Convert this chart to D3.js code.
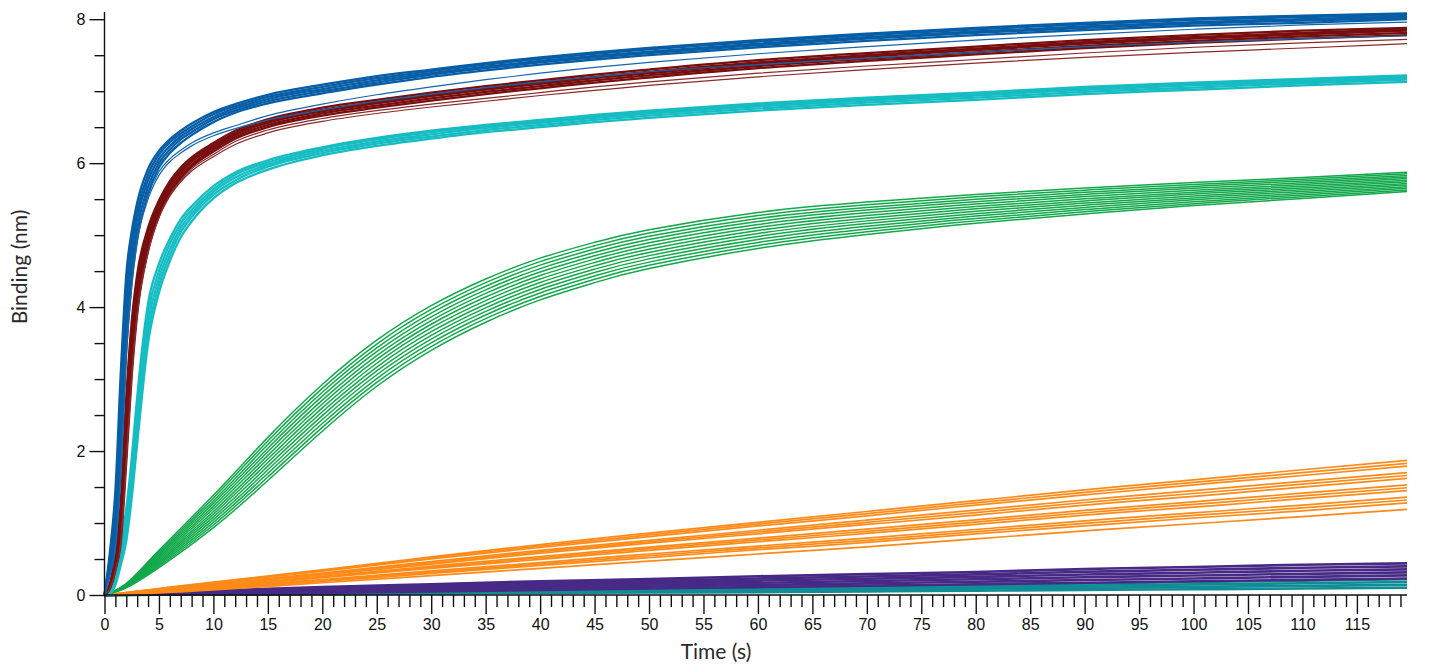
<!DOCTYPE html>
<html>
<head>
<meta charset="utf-8">
<script src="https://cdn.jsdelivr.net/npm/d3@7"></script>
<style>
  html, body { margin: 0; padding: 0; background: #fff; }
  svg { display: block; }
</style>
</head>
<body>
<svg id="chart" width="1432" height="666"></svg>
<script>
// Sampling times (s) for the fast-binding traces
const timeFast = [0, 0.5, 1, 1.5, 2, 2.5, 3, 4, 5, 6, 7, 8, 10, 12, 15, 20, 25, 30, 35, 40, 45, 50, 60, 70, 80, 90, 100, 110, 119.6];
// Sampling times (s) for the slower traces
const timeGreen = [0, 2, 5, 10, 15, 20, 25, 30, 35, 40, 45, 50, 60, 70, 80, 90, 100, 110, 119.6];
const timeOrange = [0, 5, 10, 20, 30, 40, 50, 60, 70, 80, 90, 100, 110, 119.6];
const timeLow = [0, 10, 20, 30, 40, 50, 60, 70, 80, 90, 100, 110, 119.6];

// Binding (nm) replicates, blue sample
const blue1 = [0, 0.6, 1.45, 3.1, 4.45, 5.05, 5.45, 5.92, 6.17, 6.33, 6.45, 6.55, 6.71, 6.82, 6.95, 7.09, 7.21, 7.3, 7.39, 7.47, 7.54, 7.6, 7.71, 7.8, 7.88, 7.95, 8.01, 8.05, 8.08];
const blue2 = [0, 0.52, 1.22, 2.75, 4.22, 4.9, 5.34, 5.84, 6.12, 6.29, 6.41, 6.51, 6.68, 6.79, 6.92, 7.06, 7.18, 7.28, 7.37, 7.45, 7.52, 7.58, 7.69, 7.78, 7.86, 7.93, 7.99, 8.03, 8.06];
const blue3 = [0, 0.45, 1.0, 2.43, 4.0, 4.75, 5.23, 5.76, 6.06, 6.24, 6.37, 6.47, 6.64, 6.76, 6.89, 7.03, 7.15, 7.25, 7.34, 7.42, 7.49, 7.55, 7.66, 7.75, 7.83, 7.9, 7.96, 8.0, 8.04];
const blue4 = [0, 0.38, 0.85, 2.1, 3.7, 4.55, 5.09, 5.67, 6.0, 6.19, 6.33, 6.43, 6.61, 6.73, 6.86, 7.0, 7.12, 7.23, 7.32, 7.4, 7.47, 7.53, 7.64, 7.73, 7.81, 7.88, 7.94, 7.98, 8.02];
const blue5 = [0, 0.3, 0.7, 1.8, 3.4, 4.35, 4.95, 5.58, 5.94, 6.14, 6.28, 6.39, 6.57, 6.7, 6.83, 6.97, 7.09, 7.2, 7.29, 7.37, 7.44, 7.5, 7.61, 7.7, 7.78, 7.85, 7.91, 7.95, 8.0];
const blue6 = [0, 0.3, 0.7, 1.8, 3.4, 4.35, 4.95, 5.55, 5.88, 6.06, 6.18, 6.28, 6.42, 6.52, 6.66, 6.82, 6.95, 7.06, 7.16, 7.25, 7.33, 7.4, 7.52, 7.62, 7.71, 7.79, 7.86, 7.92, 7.96];
const blue7 = [0, 0.28, 0.65, 1.7, 3.3, 4.3, 4.9, 5.5, 5.83, 6.02, 6.14, 6.24, 6.38, 6.48, 6.6, 6.74, 6.86, 6.96, 7.05, 7.13, 7.2, 7.27, 7.37, 7.46, 7.54, 7.62, 7.68, 7.73, 7.77];

// Binding (nm) replicates, dark red sample
const red1 = [0, 0.16, 0.58, 1.3, 2.75, 3.8, 4.45, 5.1, 5.48, 5.75, 5.94, 6.08, 6.28, 6.45, 6.61, 6.77, 6.88, 6.98, 7.07, 7.15, 7.23, 7.3, 7.43, 7.53, 7.62, 7.71, 7.78, 7.84, 7.88];
const red2 = [0, 0.14, 0.52, 1.15, 2.52, 3.62, 4.32, 5.02, 5.43, 5.71, 5.9, 6.05, 6.25, 6.42, 6.58, 6.74, 6.85, 6.95, 7.04, 7.12, 7.2, 7.27, 7.4, 7.5, 7.59, 7.68, 7.75, 7.81, 7.86];
const red3 = [0, 0.12, 0.45, 1.0, 2.3, 3.45, 4.2, 4.95, 5.38, 5.67, 5.87, 6.02, 6.22, 6.4, 6.56, 6.72, 6.83, 6.93, 7.02, 7.1, 7.18, 7.25, 7.38, 7.48, 7.57, 7.66, 7.73, 7.79, 7.84];
const red4 = [0, 0.1, 0.4, 0.88, 2.08, 3.25, 4.05, 4.86, 5.32, 5.62, 5.83, 5.98, 6.19, 6.37, 6.53, 6.69, 6.8, 6.9, 6.99, 7.07, 7.15, 7.22, 7.35, 7.45, 7.54, 7.63, 7.7, 7.76, 7.81];
const red5 = [0, 0.09, 0.34, 0.75, 1.85, 3.05, 3.9, 4.78, 5.27, 5.58, 5.79, 5.95, 6.16, 6.34, 6.5, 6.66, 6.77, 6.87, 6.96, 7.04, 7.12, 7.19, 7.32, 7.42, 7.51, 7.6, 7.67, 7.73, 7.78];
const red6 = [0, 0.09, 0.34, 0.75, 1.85, 3.05, 3.9, 4.76, 5.24, 5.54, 5.74, 5.89, 6.09, 6.26, 6.42, 6.58, 6.69, 6.78, 6.86, 6.94, 7.01, 7.08, 7.2, 7.3, 7.39, 7.47, 7.54, 7.6, 7.66];
const red7 = [0, 0.09, 0.34, 0.75, 1.85, 3.05, 3.9, 4.77, 5.25, 5.56, 5.76, 5.92, 6.12, 6.3, 6.46, 6.62, 6.73, 6.82, 6.9, 6.98, 7.06, 7.13, 7.25, 7.35, 7.44, 7.53, 7.61, 7.67, 7.72];

// Binding (nm) replicates, cyan sample
const cyan1 = [0, 0.05, 0.28, 0.7, 1.2, 1.9, 2.75, 4.05, 4.6, 4.95, 5.22, 5.4, 5.68, 5.87, 6.04, 6.22, 6.35, 6.45, 6.53, 6.6, 6.67, 6.73, 6.83, 6.91, 6.98, 7.06, 7.12, 7.17, 7.22];
const cyan2 = [0, 0.04, 0.24, 0.62, 1.08, 1.75, 2.6, 3.92, 4.5, 4.88, 5.16, 5.35, 5.64, 5.84, 6.01, 6.2, 6.33, 6.43, 6.51, 6.58, 6.65, 6.71, 6.81, 6.89, 6.96, 7.04, 7.1, 7.15, 7.2];
const cyan3 = [0, 0.03, 0.2, 0.55, 0.95, 1.6, 2.43, 3.78, 4.4, 4.8, 5.1, 5.3, 5.6, 5.8, 5.98, 6.17, 6.3, 6.4, 6.49, 6.56, 6.63, 6.69, 6.79, 6.87, 6.94, 7.02, 7.08, 7.13, 7.18];
const cyan4 = [0, 0.025, 0.17, 0.48, 0.85, 1.48, 2.27, 3.64, 4.3, 4.72, 5.04, 5.25, 5.56, 5.76, 5.95, 6.14, 6.27, 6.37, 6.46, 6.53, 6.6, 6.66, 6.76, 6.84, 6.91, 6.99, 7.05, 7.11, 7.16];
const cyan5 = [0, 0.02, 0.14, 0.42, 0.75, 1.35, 2.1, 3.5, 4.2, 4.64, 4.97, 5.19, 5.51, 5.72, 5.91, 6.11, 6.24, 6.34, 6.43, 6.5, 6.57, 6.63, 6.73, 6.81, 6.88, 6.96, 7.02, 7.08, 7.13];

// Binding (nm) replicates, green sample
const green1 = [0, 0.16, 0.62, 1.385, 2.19, 2.925, 3.54, 4.02, 4.39, 4.68, 4.9, 5.075, 5.315, 5.46, 5.565, 5.655, 5.73, 5.8, 5.875];
const green2 = [0, 0.155, 0.6, 1.348, 2.14, 2.871, 3.487, 3.968, 4.34, 4.632, 4.853, 5.03, 5.273, 5.423, 5.532, 5.625, 5.703, 5.776, 5.853];
const green3 = [0, 0.15, 0.58, 1.31, 2.09, 2.817, 3.433, 3.917, 4.29, 4.583, 4.807, 4.985, 5.232, 5.385, 5.498, 5.595, 5.677, 5.752, 5.83];
const green4 = [0, 0.145, 0.56, 1.273, 2.04, 2.763, 3.38, 3.865, 4.24, 4.535, 4.76, 4.94, 5.19, 5.348, 5.465, 5.565, 5.65, 5.728, 5.808];
const green5 = [0, 0.14, 0.54, 1.235, 1.99, 2.708, 3.327, 3.813, 4.19, 4.487, 4.713, 4.895, 5.148, 5.31, 5.432, 5.535, 5.623, 5.703, 5.785];
const green6 = [0, 0.135, 0.52, 1.198, 1.94, 2.654, 3.273, 3.762, 4.14, 4.438, 4.667, 4.85, 5.107, 5.273, 5.398, 5.505, 5.597, 5.679, 5.763];
const green7 = [0, 0.13, 0.5, 1.16, 1.89, 2.6, 3.22, 3.71, 4.09, 4.39, 4.62, 4.805, 5.065, 5.235, 5.365, 5.475, 5.57, 5.655, 5.74];
const green8 = [0, 0.125, 0.48, 1.123, 1.84, 2.546, 3.167, 3.658, 4.04, 4.342, 4.573, 4.76, 5.023, 5.198, 5.332, 5.445, 5.543, 5.631, 5.718];
const green9 = [0, 0.12, 0.46, 1.085, 1.79, 2.492, 3.113, 3.607, 3.99, 4.293, 4.527, 4.715, 4.982, 5.16, 5.298, 5.415, 5.517, 5.607, 5.695];
const green10 = [0, 0.115, 0.44, 1.048, 1.74, 2.438, 3.06, 3.555, 3.94, 4.245, 4.48, 4.67, 4.94, 5.123, 5.265, 5.385, 5.49, 5.583, 5.673];
const green11 = [0, 0.11, 0.42, 1.01, 1.69, 2.383, 3.007, 3.503, 3.89, 4.197, 4.433, 4.625, 4.898, 5.085, 5.232, 5.355, 5.463, 5.558, 5.65];
const green12 = [0, 0.105, 0.4, 0.973, 1.64, 2.329, 2.953, 3.452, 3.84, 4.148, 4.387, 4.58, 4.857, 5.048, 5.198, 5.325, 5.437, 5.534, 5.628];
const green13 = [0, 0.1, 0.38, 0.935, 1.59, 2.275, 2.9, 3.4, 3.79, 4.1, 4.34, 4.535, 4.815, 5.01, 5.165, 5.295, 5.41, 5.51, 5.605];

// Binding (nm) replicates, orange sample
const orange1 = [0, 0.09, 0.18, 0.35, 0.53, 0.7, 0.86, 1.01, 1.16, 1.31, 1.46, 1.6, 1.74, 1.87];
const orange2 = [0, 0.087, 0.174, 0.34, 0.515, 0.68, 0.835, 0.985, 1.13, 1.28, 1.425, 1.565, 1.7, 1.83];
const orange3 = [0, 0.083, 0.167, 0.33, 0.5, 0.66, 0.81, 0.96, 1.1, 1.25, 1.39, 1.53, 1.66, 1.79];
const orange4 = [0, 0.075, 0.15, 0.305, 0.465, 0.62, 0.76, 0.9, 1.04, 1.18, 1.32, 1.45, 1.58, 1.7];
const orange5 = [0, 0.072, 0.145, 0.293, 0.448, 0.6, 0.74, 0.875, 1.01, 1.145, 1.285, 1.41, 1.54, 1.66];
const orange6 = [0, 0.068, 0.14, 0.28, 0.43, 0.58, 0.72, 0.85, 0.98, 1.11, 1.25, 1.37, 1.5, 1.62];
const orange7 = [0, 0.06, 0.125, 0.26, 0.4, 0.535, 0.665, 0.79, 0.915, 1.045, 1.175, 1.295, 1.415, 1.53];
const orange8 = [0, 0.057, 0.118, 0.25, 0.385, 0.515, 0.643, 0.765, 0.885, 1.013, 1.143, 1.258, 1.378, 1.49];
const orange9 = [0, 0.053, 0.11, 0.24, 0.37, 0.495, 0.62, 0.74, 0.855, 0.98, 1.11, 1.22, 1.34, 1.45];
const orange10 = [0, 0.045, 0.1, 0.215, 0.335, 0.45, 0.57, 0.68, 0.79, 0.91, 1.03, 1.14, 1.25, 1.36];
const orange11 = [0, 0.042, 0.093, 0.203, 0.318, 0.43, 0.545, 0.655, 0.76, 0.88, 0.995, 1.105, 1.21, 1.32];
const orange12 = [0, 0.038, 0.085, 0.19, 0.3, 0.41, 0.52, 0.63, 0.73, 0.85, 0.96, 1.07, 1.17, 1.28];
const orange13 = [0, 0.03, 0.07, 0.17, 0.27, 0.37, 0.47, 0.57, 0.67, 0.78, 0.89, 0.99, 1.09, 1.19];

// Binding (nm) replicates, purple sample
const purple1 = [0, 0.06, 0.11, 0.15, 0.19, 0.22, 0.26, 0.29, 0.32, 0.36, 0.39, 0.42, 0.44];
const purple2 = [0, 0.051, 0.094, 0.13, 0.166, 0.194, 0.23, 0.258, 0.286, 0.322, 0.35, 0.378, 0.398];
const purple3 = [0, 0.042, 0.078, 0.11, 0.142, 0.168, 0.2, 0.226, 0.252, 0.284, 0.31, 0.336, 0.356];
const purple4 = [0, 0.033, 0.062, 0.09, 0.118, 0.142, 0.17, 0.194, 0.218, 0.246, 0.27, 0.294, 0.314];
const purple5 = [0, 0.024, 0.046, 0.07, 0.094, 0.116, 0.14, 0.162, 0.184, 0.208, 0.23, 0.252, 0.272];
const purple6 = [0, 0.015, 0.03, 0.05, 0.07, 0.09, 0.11, 0.13, 0.15, 0.17, 0.19, 0.21, 0.23];

// Binding (nm) replicates, teal sample
const teal1 = [0, 0.014, 0.028, 0.045, 0.062, 0.08, 0.1, 0.12, 0.14, 0.16, 0.18, 0.2, 0.22];
const teal2 = [0, 0.01, 0.022, 0.035, 0.05, 0.063, 0.08, 0.097, 0.113, 0.13, 0.147, 0.163, 0.18];
const teal3 = [0, 0.008, 0.016, 0.027, 0.04, 0.049, 0.06, 0.073, 0.087, 0.1, 0.113, 0.127, 0.14];
const teal4 = [0, 0.005, 0.01, 0.02, 0.03, 0.035, 0.04, 0.05, 0.06, 0.07, 0.08, 0.09, 0.1];

// Axis ticks
const xTickLabels = [0, 5, 10, 15, 20, 25, 30, 35, 40, 45, 50, 55, 60, 65, 70, 75, 80, 85, 90, 95, 100, 105, 110, 115];
const yTickLabels = [0, 2, 4, 6, 8];
const yMinorTicks = [0.5, 1, 1.5, 2.5, 3, 3.5, 4.5, 5, 5.5, 6.5, 7, 7.5];

// Series groups, drawn back to front
const groups = [
  { color: "#108c94", width: 2.6, curve: d3.curveNatural, time: timeLow, runs: [teal1, teal2, teal3, teal4] },
  { color: "#472a86", width: 2.6, curve: d3.curveNatural, time: timeLow, runs: [purple1, purple2, purple3, purple4, purple5, purple6] },
  { color: "#ff8a17", width: 1.7, curve: d3.curveNatural, time: timeOrange, runs: [orange1, orange2, orange3, orange4, orange5, orange6, orange7, orange8, orange9, orange10, orange11, orange12, orange13] },
  { color: "#12a84b", width: 1.5, curve: d3.curveNatural, time: timeGreen, runs: [green1, green2, green3, green4, green5, green6, green7, green8, green9, green10, green11, green12, green13] },
  { color: "#15bdc2", width: 2.3, curve: d3.curveMonotoneX, time: timeFast, runs: [cyan1, cyan2, cyan3, cyan4, cyan5] },
  { color: "#780e0e", width: 2.3, curve: d3.curveMonotoneX, time: timeFast, runs: [red1, red2, red3, red4, red5] },
  { color: "#8a2a2a", width: 1.2, curve: d3.curveMonotoneX, time: timeFast, runs: [red6, red7] },
  { color: "#075ea6", width: 2.3, curve: d3.curveMonotoneX, time: timeFast, runs: [blue1, blue2, blue3, blue4, blue5] },
  { color: "#1466ad", width: 1.2, curve: d3.curveMonotoneX, time: timeFast, runs: [blue6, blue7] }
];

const svg = d3.select("#chart");
const x = d3.scaleLinear().domain([0, 119.6]).range([104.5, 1407]);
const y = d3.scaleLinear().domain([0, 8.1]).range([595, 12]);

const plot = svg.append("g");
groups.forEach(g => {
  const line = d3.line()
    .x(d => x(d[0]))
    .y(d => y(Math.max(0, d[1])))
    .curve(g.curve);
  g.runs.forEach(run => {
    plot.append("path")
      .attr("d", line(run.map((v, i) => [g.time[i], v])))
      .attr("fill", "none")
      .attr("stroke", g.color)
      .attr("stroke-width", g.width)
      .attr("stroke-linejoin", "round");
  });
});

// X axis: minor ticks every second, labelled ticks every five
const xAxisG = svg.append("g").attr("transform", "translate(0,595)");
xAxisG.append("g")
  .call(d3.axisBottom(x).tickValues(d3.range(0, 120, 1).filter(t => t % 5 !== 0)).tickSize(12).tickFormat(""))
  .call(g => g.select(".domain").remove());
xAxisG.append("g")
  .call(d3.axisBottom(x).tickValues(xTickLabels).tickSize(19).tickPadding(5).tickFormat(d3.format("d")))
  .call(g => g.select(".domain").attr("d", `M${x(0)},0H${x(119.6)}`));

// Y axis: minor ticks every 0.5 nm, labelled ticks every 2 nm
const yAxisG = svg.append("g").attr("transform", "translate(104.5,0)");
yAxisG.append("g")
  .call(d3.axisLeft(y).tickValues(yMinorTicks).tickSize(10).tickFormat(""))
  .call(g => g.select(".domain").remove());
yAxisG.append("g")
  .call(d3.axisLeft(y).tickValues(yTickLabels).tickSize(15).tickPadding(4).tickFormat(d3.format("d")))
  .call(g => g.select(".domain").attr("d", `M0,${y(0)}V${y(8.1)}`));

svg.selectAll(".domain, .tick line").attr("stroke", "#111").attr("stroke-width", 1.4);
svg.selectAll(".tick text")
  .attr("font-family", "'Liberation Sans', Arial, sans-serif")
  .attr("font-size", 16)
  .attr("fill", "#111");

// Axis titles
svg.append("text")
  .attr("x", 716).attr("y", 659)
  .attr("text-anchor", "middle")
  .attr("font-family", "Lato, 'Open Sans', sans-serif")
  .attr("font-size", 21)
  .attr("fill", "#2a2a2a")
  .text("Time (s)");
svg.append("text")
  .attr("transform", "translate(27,267) rotate(-90)")
  .attr("text-anchor", "middle")
  .attr("font-family", "Lato, 'Open Sans', sans-serif")
  .attr("font-size", 21)
  .attr("fill", "#2a2a2a")
  .text("Binding (nm)");
</script>
</body>
</html>
